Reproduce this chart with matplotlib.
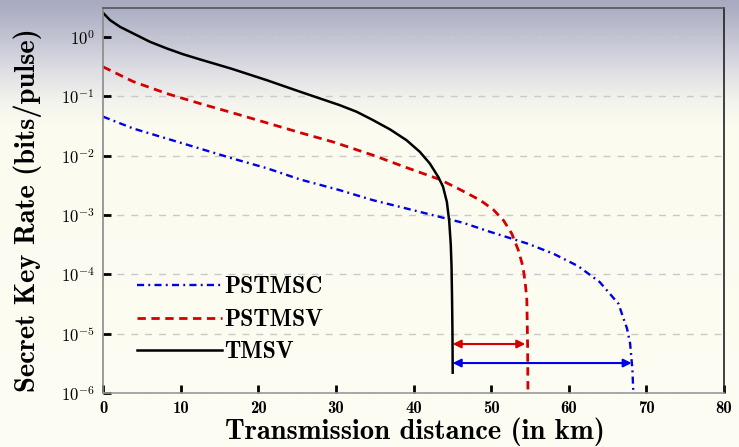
import numpy as np
import matplotlib
matplotlib.use("Agg")
import matplotlib.pyplot as plt
from matplotlib.ticker import LogLocator, NullLocator, FuncFormatter

# (distance in km, key rate in bits/pulse)
tmsv_km = [0, 0.9, 2.2, 3.9, 6.05, 8.2, 10.35, 12.5, 16.5, 21.1, 25.4, 30.5, 32.7, 34.8, 37.0,
           39.1, 40.8, 42.1, 43.2, 43.8, 44.3, 44.6, 44.8, 44.9, 44.97, 45.02, 45.05]
tmsv_rate = [2.57, 1.94, 1.49, 1.153, 0.834, 0.646, 0.513, 0.421, 0.295, 0.188, 0.120, 0.0713,
             0.0550, 0.0398, 0.0277, 0.0183, 0.0117, 0.00741, 0.00437, 0.00302, 0.00166, 7.9e-4,
             3.2e-4, 1.35e-4, 3.7e-5, 1.0e-5, 2.2e-6]

pstmsv_km = [0, 3.9, 8.2, 12.5, 16.8, 21.1, 25.4, 29.7, 34.8, 39.1, 43.4, 46.0, 48.6, 50.3, 51.6,
             52.65, 53.5, 54.1, 54.4, 54.6, 54.7, 54.75]
pstmsv_rate = [0.316, 0.178, 0.112, 0.0759, 0.0525, 0.0359, 0.0245, 0.0170, 0.0102, 0.00631,
               0.00398, 0.00269, 0.00178, 0.00123, 8.1e-4, 4.9e-4, 2.57e-4, 1.35e-4, 7.1e-5,
               3.7e-5, 6.3e-6, 8e-7]

pstmsc_km = [0, 3.9, 8.2, 12.5, 16.8, 21.1, 25.4, 30.5, 34.8, 39.1, 43.4, 46.4, 49.9, 54.7, 58.0,
             61.2, 64.0, 66.4, 67.5, 67.9, 68.2, 68.35]
pstmsc_rate = [0.0457, 0.0288, 0.0195, 0.0132, 0.00891, 0.00617, 0.00398, 0.00263, 0.00178,
               0.00129, 9.3e-4, 7.4e-4, 5.2e-4, 3.3e-4, 2.24e-4, 1.38e-4, 7.4e-5, 3.2e-5,
               1.23e-5, 6.9e-6, 2.5e-6, 8e-7]

# range gain arrows
arrow_start = 45.05
arrow_ends = [54.4, 68.1]
arrow_y = [6.7e-6, 3.2e-6]
arrow_colors = ['#d40000', '#0000e6']

plt.rcParams['font.family'] = 'cmb10'
plt.rcParams['mathtext.fontset'] = 'cm'
plt.rcParams['mathtext.default'] = 'rm'
plt.rcParams['axes.unicode_minus'] = False

fig = plt.figure(figsize=(7.39, 4.47), dpi=100)

# screenshot-like background gradient
stops_y = [0, 8, 40, 70, 100, 125, 447]
stops_c = np.array([[168, 171, 191], [172, 175, 195], [196, 198, 212], [222, 222, 228],
                    [243, 243, 237], [252, 251, 240], [254, 253, 243]]) / 255.0
rows = np.arange(447)
grad = np.stack([np.interp(rows, stops_y, stops_c[:, i]) for i in range(3)], axis=1)
fig.figimage(np.repeat(grad[:, None, :], 739, axis=1), xo=0, yo=0, origin='upper', zorder=-10)

ax = fig.add_axes([103/739, 1-393/447, (724-103)/739, (393-8)/447])
ax.set_facecolor('none')

ax.plot(pstmsc_km, pstmsc_rate, color='#0000e6', lw=1.7, dashes=(3.0, 1.8, 0.8, 1.8), label='PSTMSC')
ax.plot(pstmsv_km, pstmsv_rate, color='#d40000', lw=2.0, dashes=(3.0, 2.0), label='PSTMSV')
ax.plot(tmsv_km, tmsv_rate, color='black', lw=1.8, label='TMSV')

for x_end, y, c in zip(arrow_ends, arrow_y, arrow_colors):
    ax.annotate('', xy=(x_end, y), xytext=(arrow_start, y),
                arrowprops=dict(arrowstyle='<|-|>', color=c, lw=1.5,
                                mutation_scale=12, shrinkA=0, shrinkB=0))


def pow10(v, pos):
    e = int(round(np.log10(v)))
    if e < 0:
        return r'$\mathbf{10}^{-\mathbf{%d}}$' % (-e)
    return r'$\mathbf{10}^{\mathbf{%d}}$' % e


ax.set_yscale('log')
ax.set_xlim(0, 80)
ax.set_ylim(1e-6, 3.1)
ax.set_xticks(range(0, 81, 10))
ax.yaxis.set_major_locator(LogLocator(base=10, numticks=10))
ax.yaxis.set_minor_locator(NullLocator())
ax.yaxis.set_major_formatter(FuncFormatter(pow10))

ax.tick_params(axis='both', direction='in', labelsize=12, width=2, length=6, color='black')
ax.tick_params(axis='x', pad=6)
ax.tick_params(axis='y', pad=6)
ax.tick_params(right=False, top=False)

ax.yaxis.grid(True, which='major', color='#c9c9c9', linestyle=(0, (5, 5)), lw=1)
ax.set_axisbelow(True)

ax.spines['left'].set_color('#8a8a8a')
ax.spines['bottom'].set_color('#9a9a9a')
ax.spines['top'].set_color('#555555')
ax.spines['right'].set_color('#222222')
for s in ax.spines.values():
    s.set_linewidth(1.2)

ax.set_xlabel('Transmission distance (in km)', fontsize=20.5)
ax.set_ylabel('Secret Key Rate (bits/pulse)', fontsize=20.5)
ax.xaxis.set_label_coords((415-103)/621, (393-418)/385)
ax.yaxis.set_label_coords((42-103)/621, 0.475)

ax.legend(loc='upper left', bbox_to_anchor=(116/739, 1-255/447), bbox_transform=fig.transFigure,
          frameon=False, fontsize=17, handlelength=3.6, handletextpad=0.1, labelspacing=0.45)

fig.savefig('out.png', dpi=100)
